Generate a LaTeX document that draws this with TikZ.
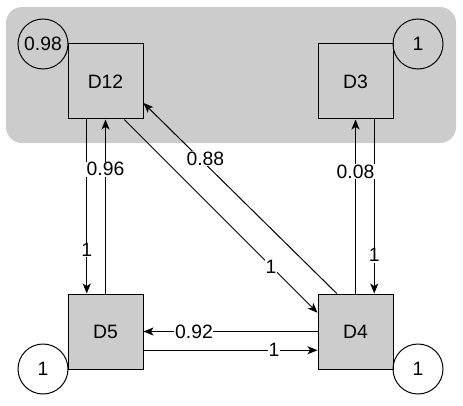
\documentclass[tikz,border=0pt]{standalone}
\usepackage{fontspec}
\setmainfont{Liberation Sans}
\usetikzlibrary{arrows.meta}
\begin{document}
\begin{tikzpicture}[x=0.75pt,y=-0.75pt,
  txt/.style={font=\fontsize{14.5}{16}\selectfont},
  box/.style={txt,draw=black,fill=black!20,minimum width=75*0.75pt,minimum height=75*0.75pt,inner sep=0pt,line width=0.75pt},
  prob/.style={txt,draw=black,circle,minimum size=50*0.75pt,inner sep=0pt,line width=0.75pt},
  conn/.style={line width=0.75pt,-{Stealth[length=7.5pt,width=6pt,inset=2pt]}},
  lab/.style={txt,fill=white,inner sep=0.5pt}]
\useasboundingbox (0,0) rectangle (463,406);
\fill[black!20,rounded corners=12pt] (6,7) rectangle (456,143);
\node[box] (d12) at (105.5,81.5) {D12};
\node[box] (d3) at (355.5,81.5) {D3};
\node[box] (d5) at (105.5,331.5) {D5};
\node[box] (d4) at (355.5,331.5) {D4};
\node[prob] (c12) at (43,44) {0.98};
\node[prob] (c3) at (418,44) {1};
\node[prob] (c5) at (43,369) {1};
\node[prob] (c4) at (418,369) {1};
% D12 <-> D5
\draw[conn] ([xshift=-18.75*0.75pt]d12.south) -- ([xshift=-18.75*0.75pt]d5.north) node[lab,pos=0.75] {1};
\draw[conn] (d5.north) -- (d12.south) node[lab,pos=0.715] {0.96};
% D3 <-> D4
\draw[conn] ([xshift=18.75*0.75pt]d3.south) -- ([xshift=18.75*0.75pt]d4.north) node[lab,pos=0.78] {1};
\draw[conn] (d4.north) -- (d3.south) node[lab,pos=0.70] {0.08};
% D12 <-> D4
\draw[conn] ([xshift=18.75*0.75pt]d12.south) -- ([yshift=18.75*0.75pt]d4.west) node[lab,pos=0.76] {1};
\draw[conn] ([xshift=-18.75*0.75pt]d4.north) -- ([yshift=-21.5*0.75pt]d12.east) node[lab,pos=0.68,yshift=5*0.75pt] {0.88};
% D4 <-> D5
\draw[conn] (d4.west) -- (d5.east) node[lab,pos=0.71] {0.92};
\draw[conn] ([yshift=-18.75*0.75pt]d5.east) -- ([yshift=-18.75*0.75pt]d4.west) node[lab,pos=0.75] {1};
\end{tikzpicture}
\end{document}
